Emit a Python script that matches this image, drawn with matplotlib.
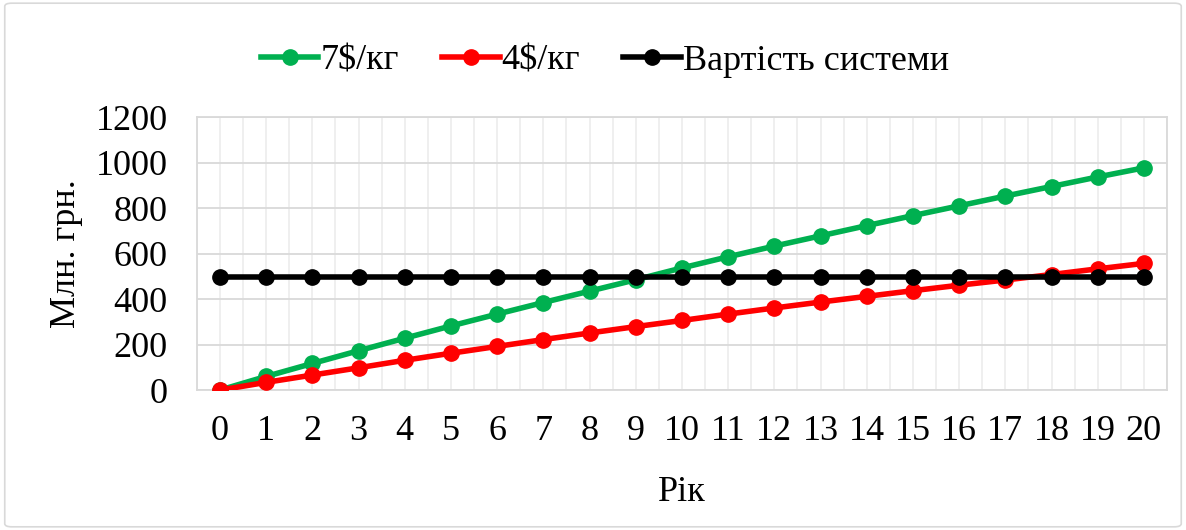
import numpy as np
import matplotlib.pyplot as plt
from matplotlib.patches import FancyBboxPatch

plt.rcParams['font.family'] = ['Liberation Serif', 'DejaVu Serif']

years = list(range(21))
# млн. грн. накопичено при різних цінах
green_7 = [0, 60, 117, 173, 228, 282, 334, 385, 435, 485, 537, 586, 633, 678, 723, 767, 810, 853, 895, 937, 977]
red_4 = [0, 34, 66, 98, 131, 162, 192, 222, 251, 279, 306, 334, 361, 387, 412, 437, 461, 484, 508, 533, 557]
system_cost = [495] * 21

fig = plt.figure(figsize=(11.86, 5.3), dpi=100)
ax = fig.add_axes([0.166, 0.264, 0.818, 0.515])

# рамка навколо всього рисунка
fig.patches.append(FancyBboxPatch((0.004, 0.006), 0.992, 0.988, boxstyle="round,pad=0,rounding_size=0.006",
                                  transform=fig.transFigure, fc="none", ec="#d9d9d9", lw=1.2))

ax.plot(years, green_7, color="#00b050", lw=4, marker="o", ms=11, label="7$/кг", zorder=3)
ax.plot(years, red_4, color="#ff0000", lw=4, marker="o", ms=11, label="4$/кг", zorder=4)
ax.plot(years, system_cost, color="#000000", lw=4, marker="o", ms=11, label="Вартість системи", zorder=5)

ax.set_xlim(-0.5, 20.5)
ax.set_ylim(0, 1200)
ax.set_xticks(years)
ax.set_yticks(np.arange(0, 1201, 200))
ax.set_xticks(np.arange(-0.5, 20.6, 1), minor=True)
ax.tick_params(which="both", length=0, labelsize=26)
ax.tick_params(axis="x", pad=18)
ax.tick_params(axis="y", pad=21)
ax.grid(axis="y", which="major", color="#d9d9d9", lw=1.3)
ax.grid(axis="x", which="both", color="#eeeeee", lw=1.3)
ax.set_axisbelow(True)
for s in ax.spines.values():
    s.set_color("#d9d9d9")
    s.set_linewidth(1.3)

ax.set_xlabel("Рік", fontsize=26, labelpad=20)
ax.set_ylabel("Млн. грн.", fontsize=26, labelpad=9)

fig.legend(loc="center", bbox_to_anchor=(0.51, 0.885), ncol=3, frameon=False, fontsize=26,
           handlelength=1.6, handletextpad=0.05, columnspacing=1.2)

fig.savefig("out.png", dpi=100)
